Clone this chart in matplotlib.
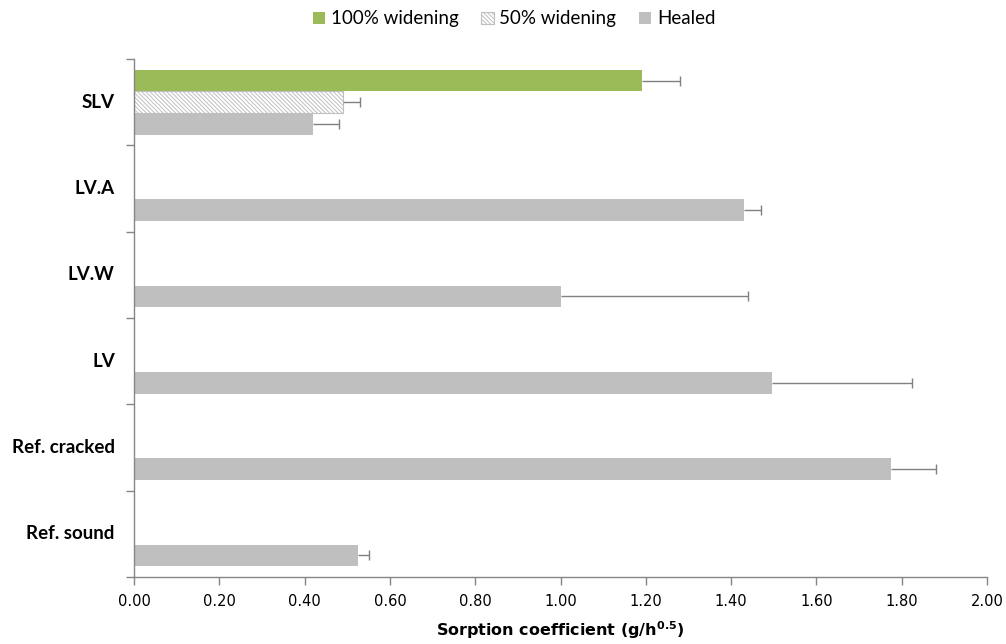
import matplotlib
matplotlib.use("Agg")
import matplotlib.pyplot as plt
import numpy as np

categories = ["SLV", "LV.A", "LV.W", "LV", "Ref. cracked", "Ref. sound"]
series_names = ["100% widening", "50% widening", "Healed"]
widen100 = [1.19, np.nan, np.nan, np.nan, np.nan, np.nan]
widen100_err = [0.09, np.nan, np.nan, np.nan, np.nan, np.nan]
widen50 = [0.49, np.nan, np.nan, np.nan, np.nan, np.nan]
widen50_err = [0.04, np.nan, np.nan, np.nan, np.nan, np.nan]
healed = [0.42, 1.43, 1.00, 1.495, 1.775, 0.525]
healed_err = [0.06, 0.04, 0.44, 0.33, 0.105, 0.025]
xticks = [0.0, 0.2, 0.4, 0.6, 0.8, 1.0, 1.2, 1.4, 1.6, 1.8, 2.0]

plt.rcParams['font.family'] = ['Lato', 'DejaVu Sans']
plt.rcParams['hatch.linewidth'] = 0.7
plt.rcParams['hatch.color'] = '#BFBFBF'

fig = plt.figure(figsize=(10.06, 6.44), dpi=100)
ax = fig.add_axes([134/1006, 1-577/644, (987-134)/1006, (577-59)/644])

y = np.arange(len(categories))
h = 0.25
err_kw = dict(ecolor='#808080', elinewidth=1.0, capsize=3.6, capthick=1.0)

def plus_err(e):
    e = np.array(e, dtype=float)
    return [np.zeros_like(e), e]

containers = []
containers.append(ax.barh(y - h, widen100, height=h, color='#9BBB59', label=series_names[0],
        xerr=plus_err(widen100_err), error_kw=err_kw))
containers.append(ax.barh(y, widen50, height=h, color='white', edgecolor='#BFBFBF',
        hatch='\\\\\\\\\\\\\\\\', linewidth=0.8, label=series_names[1],
        xerr=plus_err(widen50_err), error_kw=err_kw))
containers.append(ax.barh(y + h, healed, height=h, color='#BFBFBF', label=series_names[2],
        xerr=plus_err(healed_err), error_kw=err_kw))

# hide the caps at the bar ends (plus-only error bars)
for c in containers:
    caps = c.errorbar.lines[1]
    if caps:
        caps[0].set_visible(False)

ax.set_ylim(len(categories) - 0.5, -0.5)
ax.set_xlim(0, 2.0)

ax.set_yticks(np.arange(len(categories) + 1) - 0.5)
ax.set_yticklabels([])
ax.tick_params(axis='y', length=6, color='#868686', width=1)
for i, c in enumerate(categories):
    ax.text(-0.045, i, c, ha='right', va='center', fontsize=13.5, fontweight='bold',
            transform=ax.transData, color='black')

ax.set_xticks(xticks)
ax.set_xticklabels([f"{v:.2f}" for v in xticks],
                   fontfamily=['Liberation Sans Narrow', 'DejaVu Sans'], fontsize=10.5)
ax.tick_params(axis='x', length=6, color='#868686', width=1, pad=6)

for s in ['top', 'right']:
    ax.spines[s].set_visible(False)
for s in ['left', 'bottom']:
    ax.spines[s].set_color('#868686')
    ax.spines[s].set_linewidth(1)

ax.set_xlabel(r"Sorption coefficient (g/h$^{\mathregular{0.5}}$)", fontsize=11.5,
              fontweight='bold', fontfamily=['Liberation Sans Narrow', 'DejaVu Sans'], labelpad=8)

leg = fig.legend(loc='upper center', bbox_to_anchor=(0.511, 1.01), ncol=3, frameon=False,
                 fontsize=13.5, handlelength=0.65, handleheight=0.65, handletextpad=0.3,
                 columnspacing=1.23)

fig.savefig("out.png", dpi=100)
